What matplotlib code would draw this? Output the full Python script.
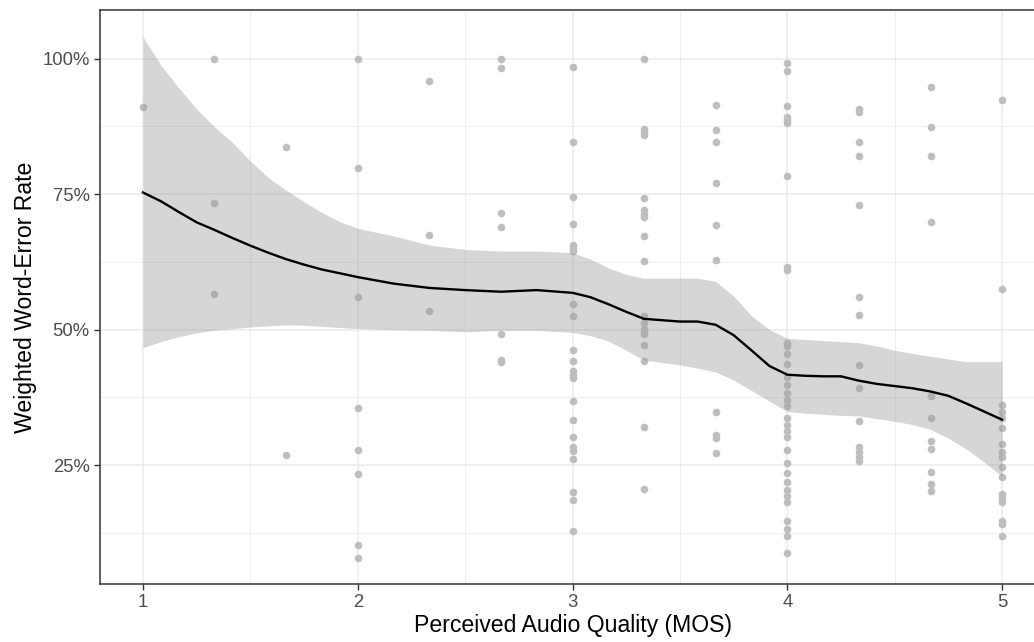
import numpy as np
import matplotlib
matplotlib.use("Agg")
import matplotlib.pyplot as plt
from matplotlib.ticker import FixedLocator, FuncFormatter

plt.rcParams['font.family'] = ['Liberation Sans', 'DejaVu Sans']

# MOS levels and the observed weighted word-error rates at each level
mos_levels = [1.0, 1.333, 1.667, 2.0, 2.333, 2.667, 3.0, 3.333, 3.667, 4.0, 4.333, 4.667, 5.0]
wer_by_mos = [
    [0.910],
    [1.000, 0.733, 0.566],
    [0.836, 0.269],
    [1.000, 0.798, 0.560, 0.355, 0.278, 0.234, 0.103, 0.079],
    [0.959, 0.675, 0.535],
    [1.000, 0.982, 0.716, 0.689, 0.492, 0.445, 0.440],
    [0.985, 0.847, 0.745, 0.695, 0.656, 0.650, 0.645, 0.548, 0.525, 0.463, 0.443,
     0.424, 0.417, 0.410, 0.369, 0.334, 0.302, 0.283, 0.276, 0.262, 0.200, 0.185, 0.129],
    [1.000, 0.870, 0.864, 0.859, 0.742, 0.720, 0.714, 0.708, 0.672, 0.627, 0.525,
     0.513, 0.502, 0.496, 0.492, 0.472, 0.443, 0.320, 0.206],
    [0.915, 0.868, 0.847, 0.771, 0.693, 0.628, 0.349, 0.306, 0.300, 0.273],
    [0.992, 0.977, 0.912, 0.893, 0.887, 0.882, 0.783, 0.616, 0.610, 0.476, 0.469,
     0.455, 0.437, 0.412, 0.398, 0.384, 0.370, 0.359, 0.338, 0.324, 0.314, 0.303,
     0.278, 0.254, 0.236, 0.220, 0.204, 0.193, 0.183, 0.148, 0.133, 0.119, 0.088],
    [0.907, 0.902, 0.847, 0.821, 0.730, 0.560, 0.528, 0.434, 0.392, 0.331, 0.283,
     0.275, 0.266, 0.257],
    [0.947, 0.874, 0.821, 0.698, 0.377, 0.337, 0.294, 0.280, 0.237, 0.216, 0.202],
    [0.924, 0.575, 0.361, 0.349, 0.337, 0.319, 0.290, 0.275, 0.266, 0.246, 0.229,
     0.197, 0.190, 0.183, 0.148, 0.141, 0.119],
]

# loess fit and its confidence band
smooth_x = [1.0, 1.083, 1.167, 1.25, 1.333, 1.417, 1.5, 1.583, 1.667, 1.75, 1.833, 1.917,
            2.0, 2.083, 2.167, 2.333, 2.5, 2.667, 2.833, 3.0, 3.083, 3.167, 3.25, 3.333,
            3.5, 3.583, 3.667, 3.75, 3.833, 3.917, 4.0, 4.083, 4.167, 4.25, 4.333, 4.417,
            4.5, 4.583, 4.667, 4.75, 4.833, 4.917, 5.0]
smooth_y = [0.753, 0.737, 0.717, 0.698, 0.684, 0.669, 0.655, 0.642, 0.630, 0.620, 0.611, 0.604,
            0.597, 0.591, 0.585, 0.577, 0.573, 0.570, 0.573, 0.568, 0.560, 0.547, 0.533, 0.520,
            0.515, 0.515, 0.509, 0.490, 0.462, 0.433, 0.417, 0.415, 0.414, 0.414, 0.406, 0.400,
            0.396, 0.392, 0.386, 0.378, 0.364, 0.349, 0.334]
smooth_hi = [1.040, 0.988, 0.946, 0.907, 0.874, 0.845, 0.811, 0.781, 0.757, 0.736, 0.716, 0.699,
             0.687, 0.680, 0.673, 0.656, 0.648, 0.645, 0.645, 0.642, 0.630, 0.614, 0.602, 0.595,
             0.595, 0.595, 0.589, 0.562, 0.526, 0.500, 0.484, 0.482, 0.480, 0.478, 0.476, 0.470,
             0.462, 0.456, 0.451, 0.446, 0.441, 0.441, 0.441]
smooth_lo = [0.467, 0.478, 0.487, 0.494, 0.499, 0.502, 0.505, 0.507, 0.509, 0.508, 0.506, 0.504,
             0.502, 0.501, 0.500, 0.499, 0.496, 0.499, 0.499, 0.495, 0.489, 0.479, 0.462, 0.444,
             0.435, 0.429, 0.422, 0.407, 0.388, 0.368, 0.349, 0.346, 0.344, 0.342, 0.341, 0.336,
             0.331, 0.325, 0.316, 0.300, 0.280, 0.256, 0.229]

y_ticks = [0.25, 0.50, 0.75, 1.00]
x_ticks = [1, 2, 3, 4, 5]

W, H = 1034, 642
fig = plt.figure(figsize=(W / 100, H / 100), dpi=100)
# panel runs a bit past the right edge of the image, as in the reference
ax = fig.add_axes([100 / W, 1 - 584 / H, 945 / W, 573.7 / H])

# gridlines (theme_bw look)
for v in [0.125, 0.375, 0.625, 0.875]:
    ax.axhline(v, color='#ebebeb', lw=0.6, zorder=0)
for v in [1.5, 2.5, 3.5, 4.5]:
    ax.axvline(v, color='#ebebeb', lw=0.6, zorder=0)
for v in y_ticks:
    ax.axhline(v, color='#ebebeb', lw=1.1, zorder=0)
for v in x_ticks:
    ax.axvline(v, color='#ebebeb', lw=1.1, zorder=0)

# points
for m, vals in zip(mos_levels, wer_by_mos):
    ax.scatter([m] * len(vals), vals, s=30, color='#bebebe', linewidths=0, zorder=2)

# smooth
ax.fill_between(smooth_x, smooth_lo, smooth_hi, color='#999999', alpha=0.4, lw=0, zorder=3)
ax.plot(smooth_x, smooth_y, color='black', lw=1.7, zorder=4)

ax.set_xlim(0.8, 5.2)
ax.set_ylim(0.031, 1.089)
ax.xaxis.set_major_locator(FixedLocator(x_ticks))
ax.yaxis.set_major_locator(FixedLocator(y_ticks))
ax.yaxis.set_major_formatter(FuncFormatter(lambda v, p: f'{v * 100:.0f}%'))

for s in ax.spines.values():
    s.set_color('#333333')
    s.set_linewidth(1.1)
ax.tick_params(axis='both', length=4.2, width=1.0, color='#333333',
               labelcolor='#4d4d4d', labelsize=13.3, pad=3.3)

ax.set_xlabel('Perceived Audio Quality (MOS)', fontsize=16.6, color='black', labelpad=2)
ax.set_ylabel('Weighted Word-Error Rate', fontsize=16.6, color='black', labelpad=4)

fig.savefig('out.png', dpi=100)
